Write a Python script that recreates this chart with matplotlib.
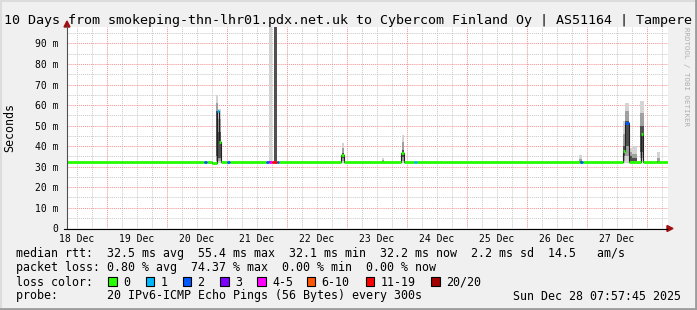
import matplotlib
matplotlib.use('Agg')
import matplotlib.pyplot as plt
from matplotlib.patches import Rectangle, Polygon

plt.rcParams['font.family'] = 'DejaVu Sans Mono'

W, H = 697, 310

# x values are hours after 18 Dec 00:00
title = '10 Days from smokeping-thn-lhr01.pdx.net.uk to Cybercom Finland Oy | AS51164 | Tampere'
day_labels = ['18 Dec', '19 Dec', '20 Dec', '21 Dec', '22 Dec',
              '23 Dec', '24 Dec', '25 Dec', '26 Dec', '27 Dec']
y_ticks = [0, 10, 20, 30, 40, 50, 60, 70, 80, 90]
y_labels = ['0', '10 m', '20 m', '30 m', '40 m', '50 m', '60 m', '70 m', '80 m', '90 m']

# median rtt (ms) as steps: start hour, value, loss class index
med_h = [8.0, 30.0, 34.0, 62.8, 64.0, 66.0, 67.8, 68.6, 69.6, 72.0, 73.2,
         87.6, 88.8, 90.0, 92.0, 92.8, 117.6, 118.6, 141.6, 142.8, 146.8,
         148.0, 160.0, 200.0, 213.2, 214.4, 226.0, 230.2, 231.2, 232.6,
         237.4, 238.5, 244.0]
med_ms = [32.3, 32.5, 32.3, 32.2, 32.3, 32.0, 57.0, 42.0, 32.3, 32.2, 32.3,
          32.3, 32.2, 32.2, 32.3, 32.3, 35.7, 32.2, 36.6, 32.3, 32.3,
          32.3, 32.4, 32.3, 32.2, 32.3, 32.1, 37.4, 51.4, 32.2,
          45.8, 32.2, 32.1]
med_loss = [0, 0, 0, 2, 0, 0, 1, 0, 0, 2, 0,
            2, 4, 6, 2, 0, 0, 0, 0, 0, 1,
            0, 0, 0, 2, 0, 0, 0, 2, 0,
            0, 0, 0]
end_h = 248.4

# smoke columns: ping spread per consolidated step (ms)
smoke_h0 = [67.6, 68.4, 88.6, 90.6, 117.8, 134.0, 141.8, 212.8, 230.2, 231.2, 232.6, 234.0, 237.2, 244.0]
smoke_h1 = [68.4, 69.6, 90.0, 92.0, 118.8, 134.8, 142.8, 214.0, 231.2, 232.6, 234.0, 236.0, 238.8, 245.2]
smoke_min = [32.0, 32.0, 32.4, 32.4, 32.0, 32.3, 32.0, 32.3, 32.0, 32.0, 32.0, 32.0, 32.5, 32.3]
smoke_p10 = [33.0, 33.0, 32.4, 32.6, 33.0, 32.4, 33.0, 32.4, 33.0, 35.0, 32.5, 32.5, 34.0, 32.4]
smoke_p25 = [35.0, 34.0, 32.4, 33.0, 34.0, 32.5, 34.5, 32.5, 35.0, 40.0, 33.0, 33.0, 37.0, 32.5]
smoke_p75 = [57.0, 47.0, 32.6, 500.0, 36.5, 32.8, 38.0, 32.8, 40.0, 52.0, 35.0, 34.0, 50.0, 32.8]
smoke_p90 = [61.0, 53.0, 32.8, 900.0, 39.0, 33.2, 42.0, 33.5, 46.0, 57.0, 37.0, 36.0, 56.0, 34.0]
smoke_max = [65.0, 58.0, 400.0, 1000.0, 41.7, 34.0, 45.5, 35.5, 52.0, 61.0, 39.0, 40.0, 62.0, 37.0]

loss_names = ['0', '1', '2', '3', '4-5', '6-10', '11-19', '20/20']
loss_colors = ['#26ff00', '#00b8ff', '#0059ff', '#7e00ff', '#ff00ff',
               '#ff5500', '#ff0000', '#a10000']

legend_rtt = 'median rtt:  32.5 ms avg  55.4 ms max  32.1 ms min  32.2 ms now  2.2 ms sd  14.5   am/s'
legend_loss = 'packet loss: 0.80 % avg  74.37 % max  0.00 % min  0.00 % now'
legend_probe = 'probe:       20 IPv6-ICMP Echo Pings (56 Bytes) every 300s'
stamp = 'Sun Dec 28 07:57:45 2025'

fig = plt.figure(figsize=(W / 100, H / 100), dpi=100, facecolor='#f0f0f0')

# plot area (pixel box 67..668 x 27..228.3)
ax = fig.add_axes([67 / W, (H - 228.3) / H, 601 / W, 201.3 / H])
ax.set_facecolor('white')
ax.set_xlim(8, end_h)
ax.set_ylim(0, 98)
for s in ax.spines.values():
    s.set_visible(False)

dot = (0, (1, 1))
for h in range(0, 252, 6):
    if h % 24:
        ax.axvline(h, color='#c8c8c8', lw=0.7, ls=dot, zorder=1)
for v in range(5, 100, 10):
    ax.axhline(v, color='#c8c8c8', lw=0.7, ls=dot, zorder=1)
for h in range(24, 252, 24):
    ax.axvline(h, color='#f09090', lw=0.7, ls=dot, zorder=1.5)
for v in range(10, 100, 10):
    ax.axhline(v, color='#f09090', lw=0.7, ls=dot, zorder=1.5)

# smoke
shades = ['#d4d4d4', '#a0a0a0', '#505050', '#a0a0a0', '#d4d4d4']
for i in range(len(smoke_h0)):
    levels = [smoke_min[i], smoke_p10[i], smoke_p25[i], smoke_p75[i], smoke_p90[i], smoke_max[i]]
    for k in range(5):
        lo, hi = levels[k], levels[k + 1]
        if hi > lo:
            ax.bar(smoke_h0[i], hi - lo, bottom=lo, width=smoke_h1[i] - smoke_h0[i],
                   align='edge', color=shades[k], lw=0, zorder=2)

# median: thin black step line, then loss-coloured segments
xs = med_h + [end_h]
ys = med_ms + [med_ms[-1]]
ax.step(xs, ys, where='post', color='#202020', lw=0.8, zorder=3)
for i in range(len(med_h)):
    x1 = med_h[i + 1] if i + 1 < len(med_h) else end_h
    ax.hlines(med_ms[i], med_h[i], x1, color=loss_colors[med_loss[i]], lw=2.0, zorder=4)

ax.set_yticks(y_ticks)
ax.set_yticklabels(y_labels, fontsize=7)
ax.set_xticks([12 + 24 * k for k in range(10)])
ax.set_xticklabels(day_labels, fontsize=7)
ax.tick_params(axis='y', length=0, pad=6)
ax.tick_params(axis='x', length=0, pad=4)

# overlay in pixel coordinates for axes lines, arrows, legend text
ov = fig.add_axes([0, 0, 1, 1], facecolor='none')
ov.set_xlim(0, W)
ov.set_ylim(H, 0)
ov.axis('off')

ov.plot([67, 67], [229, 26], color='#505050', lw=0.8)
ov.plot([64, 667], [228.5, 228.5], color='black', lw=0.8)
ov.add_patch(Polygon([[64, 27], [70, 27], [67, 21]], closed=True, color='#a01010'))
ov.add_patch(Polygon([[667, 225.5], [667, 231.5], [673, 228.5]], closed=True, color='#a01010'))

# frame
ov.plot([0.5, W - 0.5], [0.8, 0.8], color='#dcdcdc', lw=1.5)
ov.plot([0.8, 0.8], [0, H], color='#dcdcdc', lw=1.5)
ov.plot([0, W], [H - 1.2, H - 1.2], color='#9c9c9c', lw=2)
ov.plot([W - 1.2, W - 1.2], [0, H], color='#9c9c9c', lw=2)

ov.text(4, 24, title, fontsize=9.6, va='baseline', ha='left')
ov.text(10, 128, 'Seconds', fontsize=8.4, rotation=90, ha='center', va='center')
ov.text(686, 27, 'RRDTOOL / TOBI OETIKER', fontsize=5.4, rotation=270,
        ha='center', va='top', color='#b0b0b0')

ov.text(16, 257.5, legend_rtt, fontsize=8.4, va='baseline')
ov.text(16, 271.5, legend_loss, fontsize=8.4, va='baseline')
ov.text(16, 285.5, 'loss color:', fontsize=8.4, va='baseline')
ov.text(16, 299.5, legend_probe, fontsize=8.4, va='baseline')
ov.text(681, 299.5, stamp, fontsize=8.4, va='baseline', ha='right')

box_x = [108, 145.5, 182.5, 220, 257, 306.5, 365.5, 431]
for bx, name, c in zip(box_x, loss_names, loss_colors):
    ov.add_patch(Rectangle((bx, 277), 8.5, 8.5, facecolor=c, edgecolor='black', lw=0.8))
    ov.text(bx + 15, 285.5, name, fontsize=8.4, va='baseline')

fig.savefig('out.png', dpi=100, facecolor=fig.get_facecolor())
